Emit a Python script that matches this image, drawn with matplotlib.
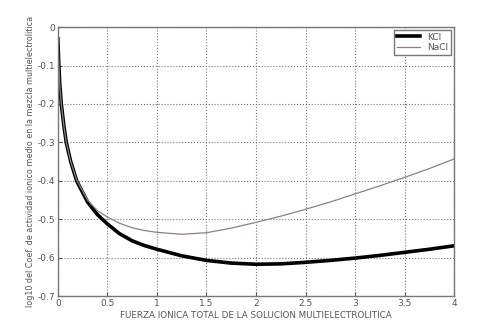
import numpy as np
import matplotlib.pyplot as plt

# datos
x_kcl = [0.0, 0.003, 0.01, 0.02, 0.035, 0.06, 0.085, 0.13, 0.19, 0.3, 0.4, 0.5, 0.62, 0.75, 0.87,
         1.0, 1.25, 1.5, 1.75, 2.0, 2.25, 2.5, 2.75, 3.0, 3.25, 3.5, 3.75, 4.0]
y_kcl = [-0.03, -0.05, -0.1, -0.15, -0.2, -0.255, -0.3, -0.35, -0.4, -0.455, -0.488, -0.512, -0.537,
         -0.556, -0.568, -0.578, -0.595, -0.607, -0.614, -0.617, -0.616, -0.612, -0.607, -0.601,
         -0.594, -0.586, -0.578, -0.569]
x_nacl = [0.0, 0.003, 0.01, 0.02, 0.035, 0.06, 0.085, 0.13, 0.19, 0.3, 0.4, 0.5, 0.62, 0.75, 0.87,
          1.0, 1.25, 1.5, 1.75, 2.0, 2.25, 2.5, 2.75, 3.0, 3.25, 3.5, 3.75, 4.0]
y_nacl = [-0.03, -0.05, -0.1, -0.15, -0.2, -0.255, -0.3, -0.35, -0.398, -0.45, -0.478, -0.494, -0.51,
          -0.522, -0.529, -0.534, -0.539, -0.535, -0.523, -0.508, -0.492, -0.474, -0.455, -0.434,
          -0.413, -0.391, -0.368, -0.343]

xticks = [0, 0.5, 1, 1.5, 2, 2.5, 3, 3.5, 4]
yticks = [0, -0.1, -0.2, -0.3, -0.4, -0.5, -0.6, -0.7]

fig = plt.figure(figsize=(4.78, 3.35), dpi=100)
ax = fig.add_axes([0.121, 0.116, 0.829, 0.803])

ax.plot(x_kcl, y_kcl, color='black', linewidth=2.6, label='KCl')
ax.plot(x_nacl, y_nacl, color='#8c7f8c', linewidth=0.9, label='NaCl')

ax.set_xlim(0, 4)
ax.set_ylim(-0.7, 0)
ax.set_xticks(xticks)
ax.set_yticks(yticks)
ax.set_xticklabels(['0', '0.5', '1', '1.5', '2', '2.5', '3', '3.5', '4'])
ax.set_yticklabels(['0', '-0.1', '-0.2', '-0.3', '-0.4', '-0.5', '-0.6', '-0.7'])
ax.tick_params(direction='in', length=3, labelsize=6.5, colors='#555555', pad=2)
ax.grid(True, linestyle=':', color='#777777', linewidth=0.8)
for s in ax.spines.values():
    s.set_color('#777777')
    s.set_linewidth(1.0)

ax.set_xlabel('FUERZA IONICA TOTAL DE LA SOLUCION MULTIELECTROLITICA', fontsize=6.3,
              color='#555555', labelpad=2)
ax.set_ylabel('log10 del Coef. de actividad ionico medio en la mezcla multielectrolitica',
              fontsize=5.8, color='#555555', labelpad=2)

leg = ax.legend(loc='upper right', fontsize=6.5, handlelength=2.6, borderpad=0.3,
                labelspacing=0.2, fancybox=False, framealpha=1, borderaxespad=0.3)
leg.get_frame().set_edgecolor('#777777')
for t in leg.get_texts():
    t.set_color('#555555')

fig.savefig('out.png', dpi=100)
